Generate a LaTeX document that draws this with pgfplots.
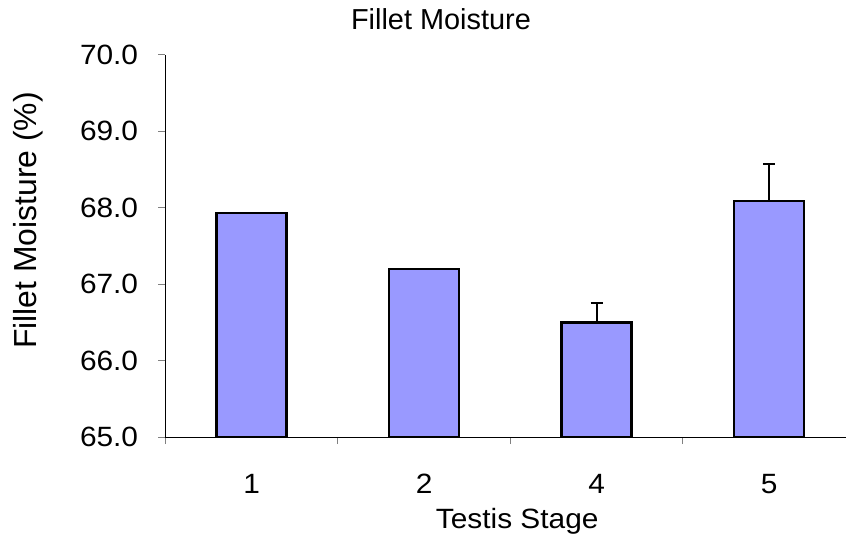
\documentclass[border=0pt]{standalone}
\usepackage{fontspec}
\setmainfont{Liberation Sans}
\newfontfamily\widefont[FakeStretch=1.07]{Liberation Sans}
\usepackage{pgfplots}
\pgfplotsset{compat=1.18}
\definecolor{barblue}{HTML}{9999FF}
\definecolor{tickgray}{HTML}{808080}

\begin{document}
\begin{tikzpicture}[x=1bp,y=1bp]
\begin{axis}[
  at={(0,0)}, anchor=south west,
  scale only axis, width=680.7bp, height=382.5bp,
  xmin=-0.5, xmax=3.446, ymin=65, ymax=70,
  axis lines=left,
  axis line style={-, line width=1.3bp, black},
  xtick={0,1,2,3}, xticklabels={1,2,4,5},
  minor xtick={-0.5,0.5,1.5,2.5},
  ytick={65,66,67,68,69,70},
  tick align=outside,
  major tick length=7bp, minor tick length=7bp,
  tick style={tickgray, line width=1.3bp},
  major x tick style={draw=none},
  tick label style={font=\widefont\fontsize{28}{28}\selectfont, inner sep=0pt},
  yticklabel style={anchor=east, xshift=-20bp, /pgf/number format/.cd, fixed, fixed zerofill, precision=1, assume math mode=true},
  xticklabel style={anchor=north, yshift=-30bp},
  title={Fillet Moisture},
  title style={font=\fontsize{29}{29}\selectfont, at={(axis description cs:0.405,1.0515)}, anchor=base, inner sep=0pt},
  xlabel={Testis Stage},
  xlabel style={font=\widefont\fontsize{28}{28}\selectfont, at={(axis description cs:0.517,-0.2382)}, anchor=base, inner sep=0pt},
  ylabel={Fillet Moisture (\%)},
  ylabel style={font=\fontsize{32}{32}\selectfont, at={(axis description cs:-0.1889,0.5665)}, anchor=base, inner sep=0pt},
  ybar, bar width=0.406, bar shift=0pt,
]
% stages 1 and 2: no error bar
\addplot[fill=barblue, draw=black, line width=2.3bp]
coordinates {(0,67.93) (1,67.20)};
% stages 4 and 5: upper error bar
\addplot[fill=barblue, draw=black, line width=2.3bp,
  error bars/.cd, y dir=plus, y explicit,
  error bar style={line width=2bp, black},
  error mark options={rotate=90, line width=2bp, mark size=6bp, black}]
coordinates {(2,66.50) +- (0,0.26) (3,68.09) +- (0,0.48)};
\end{axis}
\pgfresetboundingbox
\path[use as bounding box] (-165.3,-101.8) rectangle (680.7,437.2);
\end{tikzpicture}
\end{document}
